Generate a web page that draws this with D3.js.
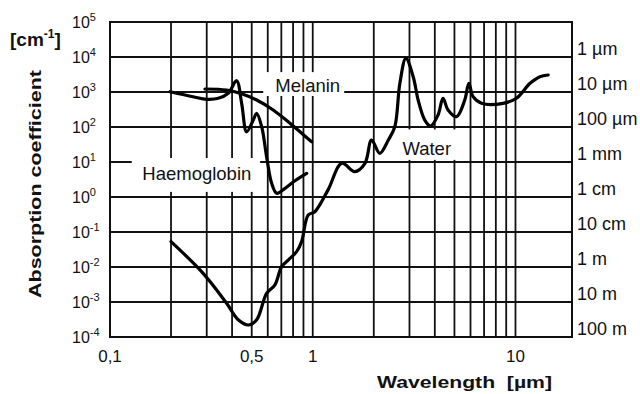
<!DOCTYPE html>
<html>
<head>
<meta charset="utf-8">
<script src="https://cdn.jsdelivr.net/npm/d3@7"></script>
<style>
  body { margin: 0; background: #fff; }
  text { font-family: "Liberation Sans", Arial, sans-serif; fill: #111; }
</style>
</head>
<body>
<div id="chart"></div>
<script>
// wavelength in µm, absorption coefficient in cm^-1
const waterX = [0.2, 0.288, 0.376, 0.429, 0.481, 0.529, 0.592, 0.651, 0.702, 0.757, 0.833, 0.881, 0.95, 1.025, 1.19, 1.39, 1.61, 1.81, 1.95, 2.14, 2.36, 2.54, 2.69, 2.88, 3.13, 3.31, 3.57, 3.81, 4.15, 4.39, 4.65, 5.12, 5.62, 5.89, 6.18, 6.8, 8.69, 10.1, 11.8, 13.2, 14.5]
const waterY = [0.053, 0.0066, 0.00092, 0.00031, 0.00022, 0.00031, 0.00177, 0.0031, 0.0102, 0.0158, 0.0274, 0.053, 0.306, 0.38, 1.6, 9.2, 5.3, 9.2, 42.5, 17.7, 42.5, 102, 1770, 9190, 2740, 590, 158, 107, 220, 661, 306, 197, 590, 1770, 734, 475, 475, 661, 1770, 2740, 3060]

const hbX = [0.198, 0.257, 0.3, 0.342, 0.383, 0.421, 0.446, 0.472, 0.509, 0.529, 0.56, 0.592, 0.627, 0.664, 0.73, 0.817, 0.933]
const hbY = [1020, 734, 618, 661, 918, 2100, 475, 73, 158, 246, 102, 14.2, 2.46, 1.28, 1.77, 2.92, 4.75]

const melX = [0.294, 0.376, 0.438, 0.529, 0.638, 0.772, 0.865, 0.987]
const melY = [1220, 1140, 918, 590, 306, 128, 73, 38]

const xGrid = [0.2, 0.3, 0.4, 0.5, 0.6, 0.7, 0.8, 0.9, 1, 2, 3, 4, 5, 6, 7, 8, 9, 10]
const xTicks = [0.1, 0.5, 1, 10]
const xTickLabels = ["0,1", "0,5", "1", "10"]
const yExps = [-4, -3, -2, -1, 0, 1, 2, 3, 4, 5]
const depthExps = [4, 3, 2, 1, 0, -1, -2, -3, -4]
const depthLabels = ["1 µm", "10 µm", "100 µm", "1 mm", "1 cm", "10 cm", "1 m", "10 m", "100 m"]

const width = 640, height = 394
const plotL = 110, plotR = 572, plotT = 22, plotB = 337

const svg = d3.select("#chart").append("svg")
    .attr("width", width)
    .attr("height", height)

const x = d3.scaleLog().domain([0.1, 19]).range([plotL, plotR])
const y = d3.scaleLog().domain([1e-4, 1e5]).range([plotB, plotT])

// grid
const grid = svg.append("g").attr("stroke", "#111").attr("stroke-width", 1.8)
grid.selectAll("line.v").data(xGrid).join("line")
    .attr("class", "v")
    .attr("x1", d => x(d)).attr("x2", d => x(d))
    .attr("y1", plotT).attr("y2", plotB)
grid.selectAll("line.h").data(yExps.slice(1, -1)).join("line")
    .attr("class", "h")
    .attr("x1", plotL).attr("x2", plotR)
    .attr("y1", d => y(Math.pow(10, d))).attr("y2", d => y(Math.pow(10, d)))

svg.append("rect")
    .attr("x", plotL).attr("y", plotT)
    .attr("width", plotR - plotL).attr("height", plotB - plotT)
    .attr("fill", "none").attr("stroke", "#111").attr("stroke-width", 2)

// white boxes behind the curve names (in data units)
const labels = [
    {text: "Haemoglobin", tx: 0.268, ty: 3.1, x0: 0.128, x1: 0.55, y0: 1.4, y1: 13},
    {text: "Melanin", tx: 0.945, ty: 1020, x0: 0.57, x1: 1.43, y0: 770, y1: 3700},
    {text: "Water", tx: 3.65, ty: 15.5, x0: 2.85, x1: 5.35, y0: 11.5, y1: 85}
]
svg.append("g").selectAll("rect").data(labels).join("rect")
    .attr("x", d => x(d.x0))
    .attr("y", d => y(d.y1))
    .attr("width", d => x(d.x1) - x(d.x0))
    .attr("height", d => y(d.y0) - y(d.y1))
    .attr("fill", "#fff")

// curves
const line = d3.line()
    .x(d => x(d[0]))
    .y(d => y(d[1]))
    .curve(d3.curveCatmullRom.alpha(0.5))

const series = [[waterX, waterY], [hbX, hbY], [melX, melY]]
svg.append("g").selectAll("path").data(series).join("path")
    .attr("d", d => line(d[0].map((v, i) => [v, d[1][i]])))
    .attr("fill", "none")
    .attr("stroke", "#000")
    .attr("stroke-width", 3.2)
    .attr("stroke-linejoin", "round")
    .attr("stroke-linecap", "round")

svg.append("g").selectAll("text").data(labels).join("text")
    .attr("x", d => x(d.tx))
    .attr("y", d => y(d.ty))
    .attr("text-anchor", "middle")
    .attr("font-size", 18.5)
    .text(d => d.text)

// left axis labels 10^n
const yl = svg.append("g").selectAll("text").data(yExps).join("text")
    .attr("x", 72)
    .attr("y", d => y(Math.pow(10, d)) + 6)
    .attr("font-size", 16)
yl.append("tspan").text("10")
yl.append("tspan").attr("dy", -7).attr("font-size", 11).text(d => d)

// right axis: penetration depth
svg.append("g").selectAll("text").data(depthExps).join("text")
    .attr("x", 577)
    .attr("y", d => y(Math.pow(10, d)) - 2)
    .attr("font-size", 18)
    .text((d, i) => depthLabels[i])

// x tick labels
svg.append("g").selectAll("text").data(xTicks).join("text")
    .attr("x", d => x(d))
    .attr("y", 362)
    .attr("text-anchor", "middle")
    .attr("font-size", 17)
    .text((d, i) => xTickLabels[i])

// titles
const unit = svg.append("text")
    .attr("x", 10).attr("y", 46)
    .attr("font-size", 19).attr("font-weight", "bold")
unit.append("tspan").text("[cm")
unit.append("tspan").attr("dy", -8).attr("font-size", 12).text("-1")
unit.append("tspan").attr("dy", 8).text("]")

svg.append("text")
    .attr("transform", "translate(41,184) rotate(-90)")
    .attr("text-anchor", "middle")
    .attr("font-size", 17).attr("font-weight", "bold")
    .attr("textLength", 228).attr("lengthAdjust", "spacingAndGlyphs")
    .text("Absorption coefficient")

svg.append("text")
    .attr("x", 377).attr("y", 388)
    .attr("font-size", 17).attr("font-weight", "bold")
    .attr("textLength", 175).attr("lengthAdjust", "spacingAndGlyphs")
    .style("white-space", "pre")
    .text("Wavelength  [µm]")
</script>
</body>
</html>
